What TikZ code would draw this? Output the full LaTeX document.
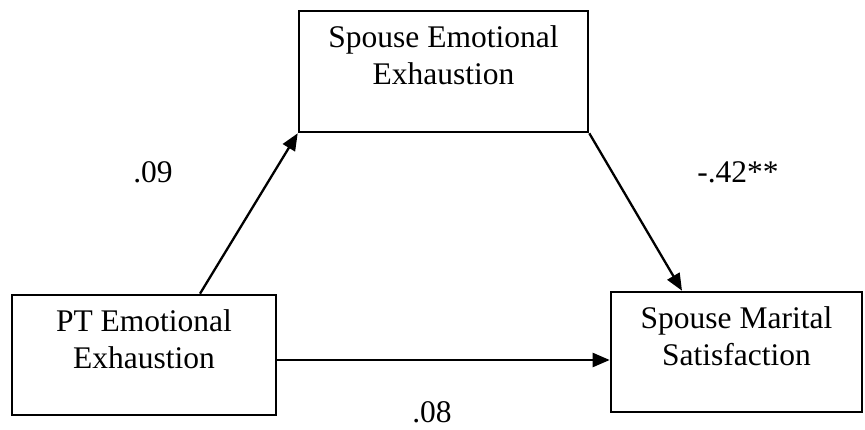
\documentclass[tikz,border=0pt]{standalone}
\usepackage{fontspec}
\setmainfont{Liberation Serif}
\usetikzlibrary{arrows.meta}
\usetikzlibrary{calc,positioning}

\tikzset{
	varbox/.style = {draw, line width=2.6pt, rectangle, align=center,
		font=\fontsize{31.5}{37}\selectfont, inner sep=0pt},
	coef/.style = {font=\fontsize{31.5}{37}\selectfont, inner sep=0pt}
}

\begin{document}
\begin{tikzpicture}[x=1pt,y=1pt,>={Triangle[length=17pt,width=14pt]}]
		\useasboundingbox (0,0) rectangle (865,-430);
		% boxes
		\node[varbox, minimum width=289pt, minimum height=121pt] (spEE) at (443.5,-71.5) {Spouse Emotional\\Exhaustion\\[-16pt]\strut};
		\node[varbox, minimum width=264pt, minimum height=120pt] (ptEE) at (144,-355) {PT Emotional\\Exhaustion\\[-16pt]\strut};
		\node[varbox, minimum width=251pt, minimum height=120pt] (spMS) at (736.5,-352) {Spouse Marital\\Satisfaction\\[-16pt]\strut};
		% paths
		\draw[->, line width=2.3pt] ([xshift=56pt]ptEE.north) -- (spEE.south west);
		\draw[->, line width=2.3pt] (spEE.south east) -- ([xshift=-54.5pt]spMS.north);
		\draw[->, line width=2.3pt] ([yshift=-5pt]ptEE.east) -- ([yshift=-5pt]ptEE.east -| spMS.west);
		% coefficients
		\node[coef] (a) at (153,-172) {.09};
		\node[coef] (b) at (738,-172) {-.42**};
		\node[coef] (c) at (432,-412) {.08};
	\end{tikzpicture}
\end{document}
